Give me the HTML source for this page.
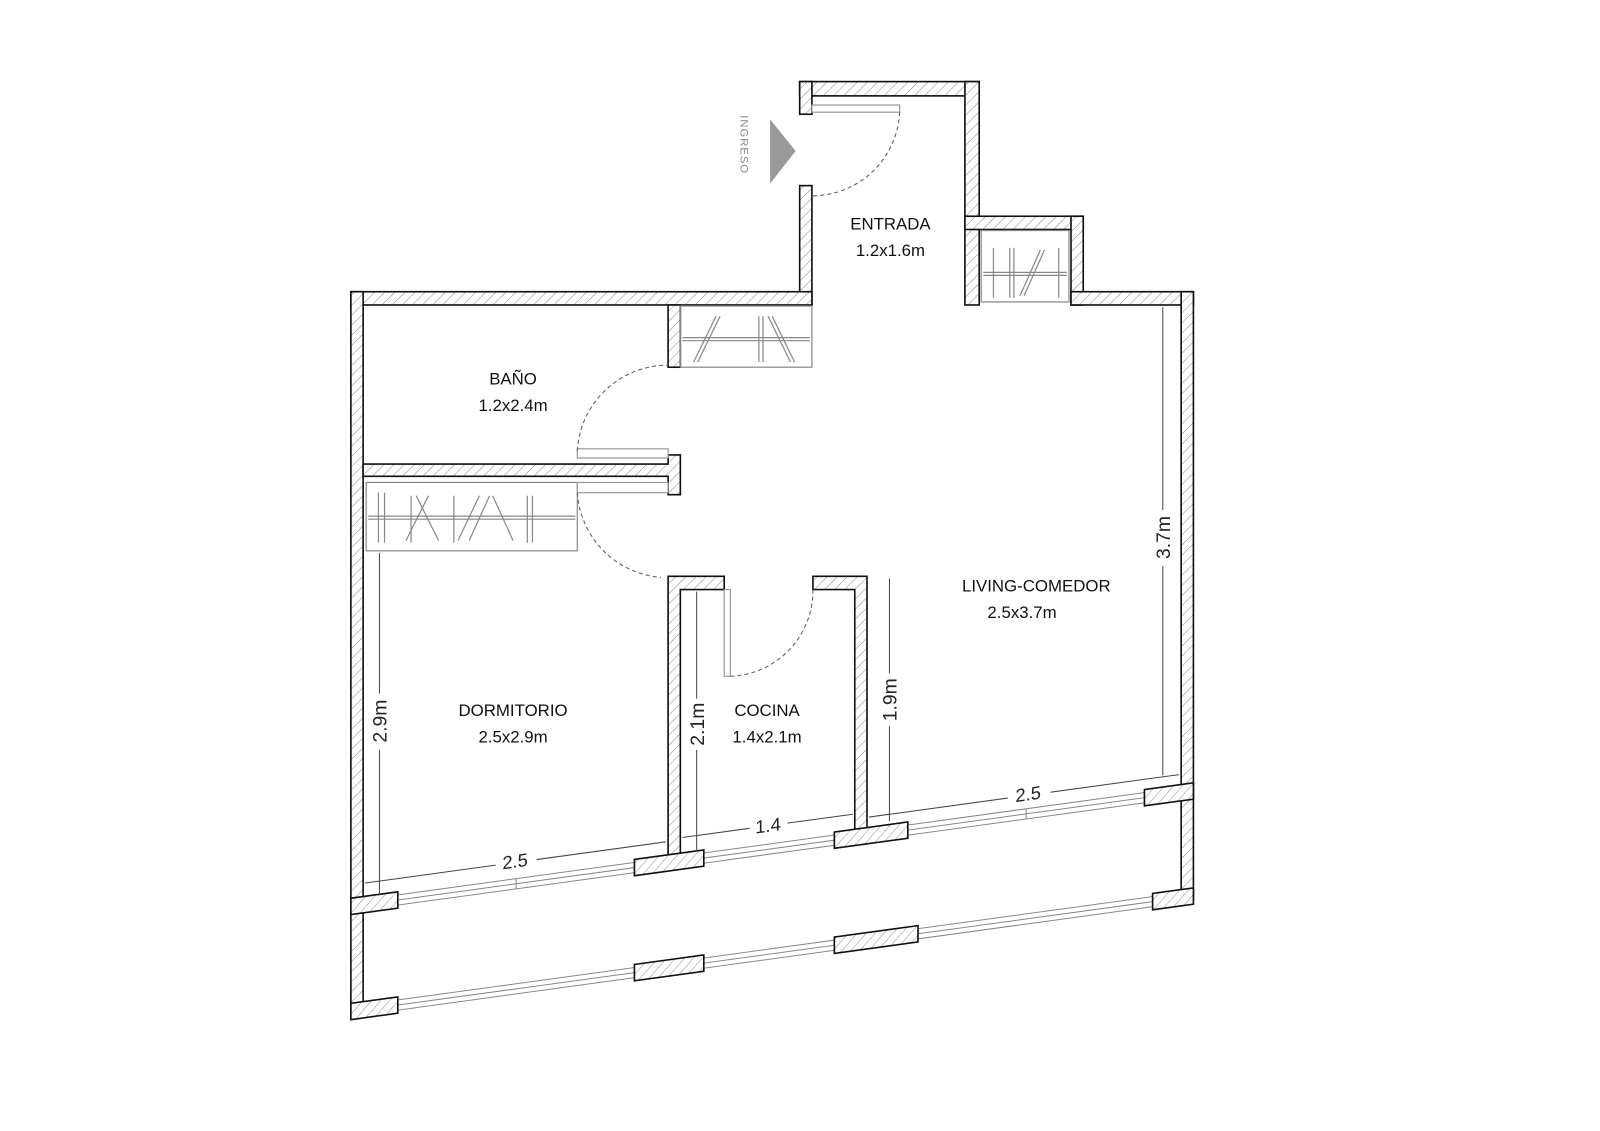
<!DOCTYPE html>
<html><head><meta charset="utf-8"><style>html,body{margin:0;padding:0;background:#fff}svg{display:block}</style></head>
<body>
<svg width="1600" height="1131" viewBox="0 0 1600 1131" xmlns="http://www.w3.org/2000/svg" font-family="Liberation Sans, sans-serif">
<defs>
<pattern id="h" patternUnits="userSpaceOnUse" width="7" height="7" patternTransform="rotate(45)">
<rect width="7" height="7" fill="#fff"/><line x1="0" y1="0" x2="0" y2="7" stroke="#888" stroke-width="1"/>
</pattern>
</defs>
<g transform="scale(1.02)">
<g fill="url(#h)" stroke="#111" stroke-width="1.6">
<rect x="784" y="80" width="176" height="14"/>
<rect x="784" y="80" width="12" height="32"/>
<rect x="946" y="80" width="14" height="219"/>
<rect x="784" y="182" width="12" height="117"/>
<rect x="946" y="212" width="116" height="13"/>
<rect x="1050" y="212" width="12" height="87"/>
<rect x="344" y="286" width="452" height="13"/>
<rect x="1050" y="286" width="120" height="13"/>
<rect x="344" y="286" width="12" height="711"/>
<rect x="1158" y="286" width="12" height="596"/>
<rect x="655" y="299" width="12" height="61"/>
<path d="M356 455 H655 V446 H667 V485 H655 V467 H356 Z"/>
<path d="M655 565 H710 V578 H667 V842 H655 Z"/>
<path d="M797 565 H850 V815 H838 V578 H797 Z"/>
</g>
<g fill="none" stroke="#888" stroke-width="1.2">
<rect x="667" y="300" width="129" height="60"/>
<line x1="669" y1="331" x2="794" y2="331"/><line x1="669" y1="334" x2="794" y2="334"/>
<path d="M680 355 L702 310 M684 355 L706 310 M744 310 V355 M748 310 V355 M753 310 L775 355 M757 310 L779 355"/>
<rect x="962" y="226" width="86" height="70"/>
<line x1="964" y1="267" x2="1046" y2="267"/><line x1="964" y1="270" x2="1046" y2="270"/>
<path d="M974 243 V292 M990 243 V292 M994 243 V292 M1000 290 L1020 245 M1004 290 L1024 245 M1038 243 V292"/>
<rect x="359" y="473" width="207" height="67"/>
<line x1="361" y1="506" x2="564" y2="506"/><line x1="361" y1="509" x2="564" y2="509"/>
<path d="M371 483 V532 M377 483 V532 M398 530 L420 486 M403 486 V532 M408 486 L430 530 M445 486 V532 M449 530 L470 486 M460 530 L480 486 M483 486 L503 530 M517 486 V532 M522 486 V532"/>
</g>
<g fill="#fff" stroke="#999" stroke-width="1.2">
<rect x="796" y="103" width="86" height="7"/>
<rect x="566" y="440" width="89" height="9"/>
<rect x="566" y="473" width="89" height="10"/>
<rect x="710" y="578" width="6" height="85"/>
</g>
<g fill="none" stroke="#666" stroke-width="1.1" stroke-dasharray="4,3">
<path d="M882 110 A86 86 0 0 1 796 192"/>
<path d="M566 442 A89 89 0 0 1 655 358"/>
<path d="M566 483 A89 89 0 0 0 648 566"/>
<path d="M716 663 A84 84 0 0 0 797 578"/>
</g>
<polygon points="755,117 780,148 755,180" fill="#999"/>
<text x="0" y="0" transform="translate(726,113) rotate(90)" font-size="11" fill="#888" letter-spacing="1">INGRESO</text>
<g transform="matrix(1,-0.137,0,1,0,48.77)">
<g fill="#fff" stroke="#888" stroke-width="1">
<rect x="390" y="882" width="232" height="10"/><line x1="390" y1="887" x2="622" y2="887"/><line x1="506" y1="882" x2="506" y2="892"/>
<rect x="690" y="882" width="128" height="10"/><line x1="690" y1="887" x2="818" y2="887"/>
<rect x="890" y="882" width="232" height="10"/><line x1="890" y1="887" x2="1122" y2="887"/><line x1="1006" y1="882" x2="1006" y2="892"/>
<rect x="390" y="985" width="232" height="10"/><line x1="390" y1="990" x2="622" y2="990"/>
<rect x="690" y="985" width="128" height="10"/><line x1="690" y1="990" x2="818" y2="990"/>
<rect x="900" y="985" width="230" height="10"/><line x1="900" y1="990" x2="1130" y2="990"/>
</g>
<g fill="url(#h)" stroke="#111" stroke-width="1.6">
<rect x="344" y="879" width="46" height="16"/>
<rect x="622" y="879" width="68" height="16"/>
<rect x="818" y="879" width="72" height="16"/>
<rect x="1122" y="879" width="48" height="16"/>
<rect x="344" y="982" width="46" height="16"/>
<rect x="622" y="982" width="68" height="16"/>
<rect x="818" y="982" width="82" height="16"/>
<rect x="1130" y="982" width="40" height="16"/>
</g>
<g stroke="#444" stroke-width="1" fill="none">
<line x1="358" y1="866" x2="486" y2="866"/><line x1="526" y1="866" x2="653" y2="866"/>
<line x1="669" y1="864" x2="735" y2="864"/><line x1="772" y1="864" x2="836" y2="864"/>
<line x1="852" y1="869" x2="988" y2="869"/><line x1="1030" y1="869" x2="1156" y2="869"/>
</g>
<g font-size="18" fill="#222" text-anchor="middle">
<text x="505" y="871">2.5</text><text x="753" y="870">1.4</text><text x="1008" y="874">2.5</text>
</g>
</g>
<g stroke="#444" stroke-width="1">
<line x1="1140" y1="301" x2="1140" y2="500"/><line x1="1140" y1="555" x2="1140" y2="760"/>
<line x1="372" y1="542" x2="372" y2="680"/><line x1="372" y1="735" x2="372" y2="878"/>
<line x1="683" y1="580" x2="683" y2="685"/><line x1="683" y1="735" x2="683" y2="835"/>
<line x1="872" y1="567" x2="872" y2="660"/><line x1="872" y1="712" x2="872" y2="805"/>
</g>
<g font-size="19" fill="#222" text-anchor="middle">
<text transform="translate(1147,527) rotate(-90)">3.7m</text>
<text transform="translate(379,707) rotate(-90)">2.9m</text>
<text transform="translate(690,710) rotate(-90)">2.1m</text>
<text transform="translate(879,686) rotate(-90)">1.9m</text>
</g>
<g font-size="16.5" fill="#111" text-anchor="middle">
<text x="873" y="225">ENTRADA</text><text x="873" y="251">1.2x1.6m</text>
<text x="503" y="377">BAÑO</text><text x="503" y="403">1.2x2.4m</text>
<text x="1016" y="580">LIVING-COMEDOR</text><text x="1002" y="606">2.5x3.7m</text>
<text x="503" y="702">DORMITORIO</text><text x="503" y="728">2.5x2.9m</text>
<text x="752" y="702">COCINA</text><text x="752" y="728">1.4x2.1m</text>
</g>
</g>
</svg>
</body></html>
